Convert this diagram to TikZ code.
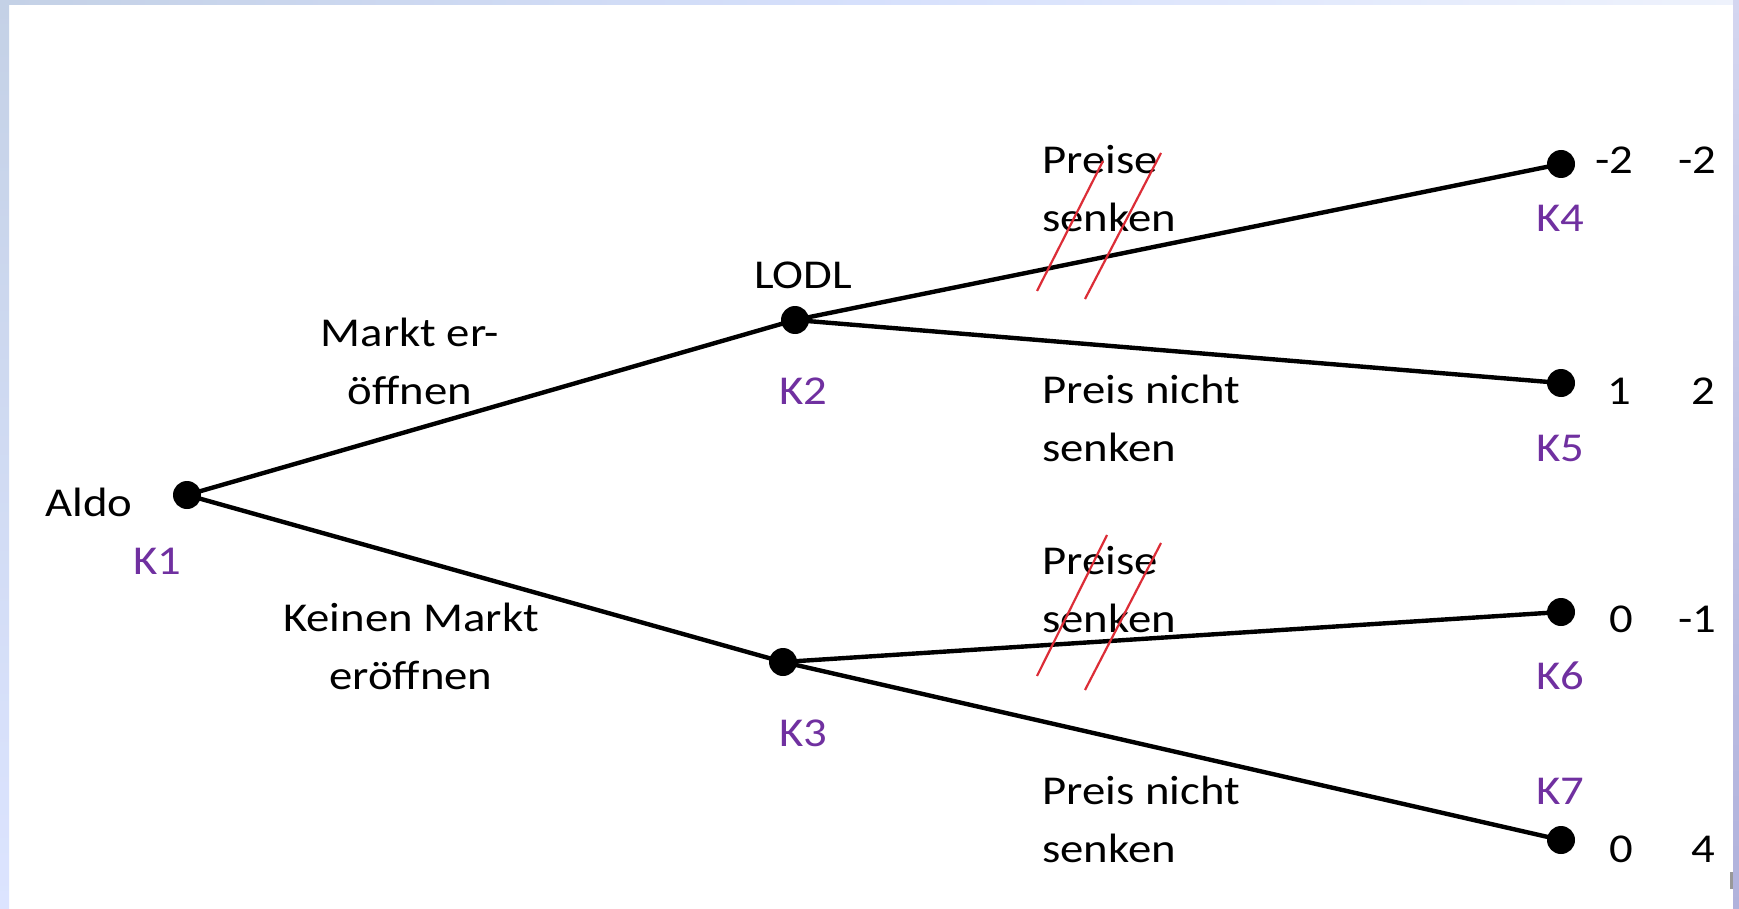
\documentclass[tikz,border=0pt]{standalone}
\usepackage{fontspec}
\setmainfont{Carlito}[FakeStretch=1.14]
\definecolor{kpurple}{RGB}{112,48,160}
\definecolor{strike}{RGB}{220,45,55}
\definecolor{topA}{RGB}{196,209,230}
\definecolor{topB}{RGB}{214,224,252}
\definecolor{topC}{RGB}{238,242,252}
\definecolor{leftB}{RGB}{220,228,255}
\definecolor{rightA}{RGB}{212,214,240}
\definecolor{rightB}{RGB}{176,178,220}
\begin{document}
\begin{tikzpicture}[x=0.5pt,y=-0.5pt,
  dot/.style={circle,fill=black,inner sep=0pt,minimum size=14pt},
  branch/.style={line width=2.2pt,black},
  txt/.style={font=\fontsize{20.5}{29}\selectfont,inner sep=0pt},
  klabel/.style={txt,text=kpurple,anchor=base},
  strikeline/.style={strike,line width=1.1pt}]
\useasboundingbox (0,0) rectangle (1739,909);
% frame
\fill[white] (0,0) rectangle (1739,909);
\shade[left color=topA,right color=topC,middle color=topB] (0,0) rectangle (1733,5);
\shade[top color=topA,bottom color=leftB] (0,0) rectangle (9,909);
\shade[top color=rightA,bottom color=rightB] (1733,0) rectangle (1739,909);
\fill[gray!80] (1730,872) rectangle (1733,889);
% nodes
\node[dot] (k1) at (187,495) {};
\node[dot] (k2) at (795,320) {};
\node[dot] (k3) at (783,662) {};
\node[dot] (k4) at (1561,164) {};
\node[dot] (k5) at (1561,383) {};
\node[dot] (k6) at (1561,612) {};
\node[dot] (k7) at (1561,840) {};
% branches
\draw[branch] (k1.center) -- (k2.center);
\draw[branch] (k1.center) -- (k3.center);
\draw[branch] (k2.center) -- (k4.center);
\draw[branch] (k2.center) -- (k5.center);
\draw[branch] (k3.center) -- (k6.center);
\draw[branch] (k3.center) -- (k7.center);
% player labels
\node[txt,anchor=base] (aldo) at (89,516) {Aldo};
\node[txt,anchor=base] (lodl) at (803,288) {LODL};
% K labels
\node[klabel] (l1) at (157,574) {K1};
\node[klabel] (l2) at (803,404) {K2};
\node[klabel] (l3) at (803,746) {K3};
\node[klabel] (l4) at (1560,232) {K4};
\node[klabel] (l5) at (1560,461) {K5};
\node[klabel] (l6) at (1560,689) {K6};
\node[klabel] (l7) at (1560,804) {K7};
% action labels (anchor base = baseline of last line)
\node[txt,anchor=base,align=center] (a1) at (410,404) {Markt er-\\öffnen};
\node[txt,anchor=base,align=center] (a2) at (411,689) {Keinen Markt\\eröffnen};
\node[txt,anchor=base west,align=left] (b1) at (1042,232) {Preise\\senken};
\node[txt,anchor=base west,align=left] (b2) at (1042,461) {Preis nicht\\senken};
\node[txt,anchor=base west,align=left] (b3) at (1042,632) {Preise\\senken};
\node[txt,anchor=base west,align=left] (b4) at (1042,862) {Preis nicht\\senken};
% payoffs
\node[txt,anchor=base east] (p4a) at (1634,174) {-2};
\node[txt,anchor=base east] (p4b) at (1717,174) {-2};
\node[txt,anchor=base east] (p5a) at (1632,404) {1};
\node[txt,anchor=base east] (p5b) at (1716,404) {2};
\node[txt,anchor=base east] (p6a) at (1634,632) {0};
\node[txt,anchor=base east] (p6b) at (1717,632) {-1};
\node[txt,anchor=base east] (p7a) at (1634,862) {0};
\node[txt,anchor=base east] (p7b) at (1716,862) {4};
% strike marks
\draw[strikeline] (1037,291) -- (1103,161);
\draw[strikeline] (1085,299) -- (1161,153);
\draw[strikeline] (1037,676) -- (1107,535);
\draw[strikeline] (1085,690) -- (1161,543);
\end{tikzpicture}
\end{document}
